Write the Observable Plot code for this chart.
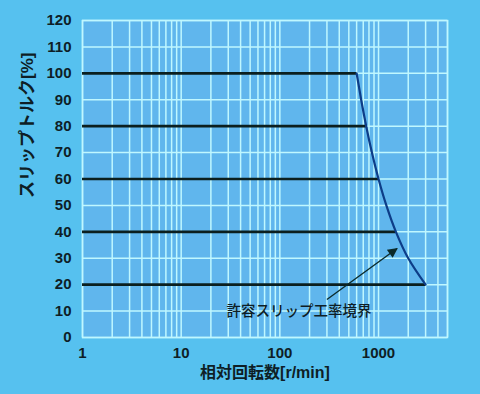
<!DOCTYPE html>
<html><head><meta charset="utf-8">
<script src="https://cdn.jsdelivr.net/npm/d3@7"></script>
<script src="https://cdn.jsdelivr.net/npm/@observablehq/plot@0.6"></script>
<style>
html,body{margin:0;padding:0;background:#56c1ef;}
#chart{width:480px;height:394px;}
</style></head>
<body><div id="chart"></div>
<script>
// Torque levels [%] and speed where each meets the boundary [r/min]
const torqueLevels = [100, 80, 60, 40, 20];
const levelEndSpeed = [600, 750, 1000, 1500, 3000];
// Boundary curve
const curveSpeed = [600, 667, 750, 857, 1000, 1200, 1500, 2000, 3000];
const curveTorque = [100, 90, 80, 70, 60, 50, 40, 30, 20];
const xTicks = [1, 10, 100, 1000];
const yTicks = [0, 10, 20, 30, 40, 50, 60, 70, 80, 90, 100, 110, 120];
const annotationText = "許容スリップ工率境界";
const annotationPos = [156, 9.8];
const arrowFrom = [300, 14.4];
const arrowTo = [1540, 33.7];
const xTitle = "相対回転数[r/min]";
const yTitle = "スリップトルク[%]";

const xGrid = [];
for (const d of [1, 10, 100, 1000]) for (let k = 1; k <= 9; k++) if (d * k <= 5000) xGrid.push(d * k);

const levels = torqueLevels.map((t, i) => ({t, x1: 1, x2: levelEndSpeed[i]}));
const curve = curveSpeed.map((s, i) => ({s, t: curveTorque[i]}));

const font = "'Liberation Sans','Noto Sans CJK JP',sans-serif";
const gridColor = "#bff7ff";

const plot = Plot.plot({
  width: 480, height: 394,
  marginLeft: 82, marginRight: 33, marginTop: 20, marginBottom: 57,
  style: {background: "#56c1ef", fontFamily: font, fontSize: "15px", fontWeight: "bold", color: "#0e1e26"},
  x: {type: "log", domain: [1, 5000], ticks: xTicks, tickFormat: d => String(d), label: null, tickSize: 0, tickPadding: 10},
  y: {domain: [0, 120], ticks: yTicks, label: null, tickSize: 0, tickPadding: 11},
  marks: [
    Plot.frame({fill: "#60b6ed", stroke: null}),
    Plot.ruleX(xGrid, {stroke: gridColor, strokeWidth: 1.5}),
    Plot.ruleY(yTicks, {stroke: gridColor, strokeWidth: 1.5}),
    Plot.frame({stroke: gridColor, strokeWidth: 1.5}),
    Plot.ruleY(levels, {y: "t", x1: "x1", x2: "x2", stroke: "#0b1f1f", strokeWidth: 2.6}),
    Plot.line(curve, {x: "s", y: "t", stroke: "#0d3d88", strokeWidth: 2.2, curve: "monotone-y"}),
    Plot.link([{x1: arrowFrom[0], y1: arrowFrom[1], x2: arrowTo[0], y2: arrowTo[1]}],
      {x1: "x1", y1: "y1", x2: "x2", y2: "y2", stroke: "#0b2b2b", strokeWidth: 1.4}),
    Plot.text([annotationText], {x: annotationPos[0], y: annotationPos[1], text: d => d, fontSize: 14.5, fontWeight: "500", fill: "#0e1e26"}),
    Plot.text([xTitle], {frameAnchor: "bottom", dy: 40, text: d => d, fontSize: 16, fontWeight: "bold", fill: "#0e1e26"}),
    Plot.text([yTitle], {frameAnchor: "left", dx: -55, dy: 19, rotate: -90, text: d => d, fontSize: 17, fontWeight: "bold", fill: "#0e1e26"})
  ]
});
// filled arrowhead
const ns = "http://www.w3.org/2000/svg";
const defs = document.createElementNS(ns, "defs");
const marker = document.createElementNS(ns, "marker");
marker.setAttribute("id", "ahead");
marker.setAttribute("viewBox", "0 0 10 10");
marker.setAttribute("refX", "9");
marker.setAttribute("refY", "5");
marker.setAttribute("markerUnits", "userSpaceOnUse");
marker.setAttribute("markerWidth", "12");
marker.setAttribute("markerHeight", "10");
marker.setAttribute("orient", "auto");
const mp = document.createElementNS(ns, "path");
mp.setAttribute("d", "M0,0L10,5L0,10z");
mp.setAttribute("fill", "#0b2b2b");
marker.appendChild(mp);
defs.appendChild(marker);
plot.insertBefore(defs, plot.firstChild);
plot.querySelectorAll('g[aria-label="link"] path, g[aria-label="link"] line').forEach(p => p.setAttribute("marker-end", "url(#ahead)"));
document.getElementById("chart").appendChild(plot);
</script></body></html>
